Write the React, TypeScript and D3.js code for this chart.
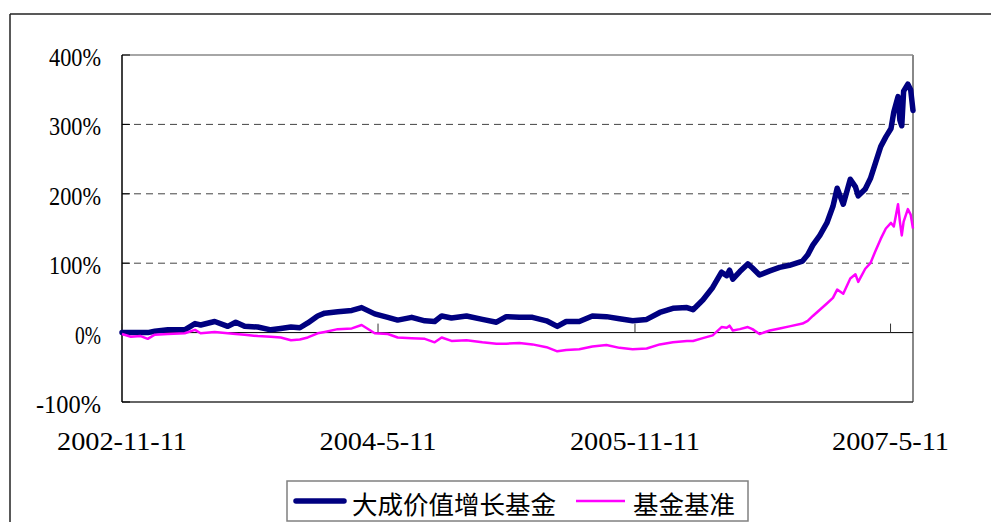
import { line, scaleLinear, scaleTime, timeParse } from "d3";

// 日期（横轴类别）
const dates = [
  "2002-11-11", "2002-11-30", "2002-12-21", "2003-01-05", "2003-01-20", "2003-02-17",
  "2003-03-25", "2003-04-16", "2003-04-28", "2003-05-28", "2003-06-25", "2003-07-12",
  "2003-07-31", "2003-08-28", "2003-09-25", "2003-10-16", "2003-11-07", "2003-11-26",
  "2003-12-13", "2004-01-03", "2004-01-18", "2004-02-15", "2004-03-16", "2004-04-06",
  "2004-05-04", "2004-06-01", "2004-06-22", "2004-07-22", "2004-08-19", "2004-09-09",
  "2004-09-24", "2004-10-15", "2004-11-16", "2004-12-20", "2005-01-19", "2005-02-09",
  "2005-03-09", "2005-04-06", "2005-05-06", "2005-05-29", "2005-06-17", "2005-07-15",
  "2005-08-12", "2005-09-11", "2005-10-09", "2005-11-06", "2005-12-06", "2006-01-03",
  "2006-01-31", "2006-03-02", "2006-03-15", "2006-04-05", "2006-04-26", "2006-05-15",
  "2006-05-26", "2006-06-01", "2006-06-08", "2006-06-23", "2006-07-10", "2006-07-20",
  "2006-08-04", "2006-08-26", "2006-09-16", "2006-10-07", "2006-11-04", "2006-11-15",
  "2006-11-26", "2006-12-11", "2006-12-26", "2007-01-08", "2007-01-17", "2007-01-30",
  "2007-02-14", "2007-02-25", "2007-03-03", "2007-03-18", "2007-03-29", "2007-04-09",
  "2007-04-20", "2007-05-01", "2007-05-12", "2007-05-18", "2007-05-27", "2007-05-31",
  "2007-06-04", "2007-06-08", "2007-06-17", "2007-06-23", "2007-06-28",
];

// 大成价值增长基金 (%)
const fundValues = [
  0, 0, 0, 0, 2, 4,
  4, 13, 11, 16, 9, 15,
  9, 8, 4, 6, 8, 7,
  14, 24, 28, 30, 32, 36,
  27, 22, 18, 22, 17, 16,
  24, 21, 24, 19, 15, 23,
  22, 22, 17, 9, 16, 16,
  24, 23, 20, 17, 19, 29,
  35, 36, 33, 47, 65, 87,
  82, 90, 77, 88, 99, 93,
  83, 89, 94, 97, 103, 112,
  126, 140, 158, 182, 208, 185,
  221, 210, 197, 207, 222, 245,
  268, 282, 294, 318, 340, 306,
  298, 348, 358, 350, 320,
];

// 基金基准 (%)
const benchValues = [
  -2, -6, -5, -9, -3, -2,
  -1, 4, -1, 1, -1, -2,
  -3, -5, -6, -7, -11, -10,
  -7, -1, 1, 5, 6, 11,
  -1, -2, -7, -8, -9, -14,
  -7, -12, -11, -14, -16, -16,
  -15, -17, -21, -27, -25, -24,
  -20, -18, -22, -24, -23, -17,
  -14, -12, -12, -8, -4, 8,
  7, 10, 3, 5, 8, 5,
  -2, 3, 6, 9, 13, 17,
  24, 33, 42, 50, 62, 56,
  78, 84, 73, 92, 100, 118,
  135, 150, 158, 153, 185, 160,
  140, 160, 178, 170, 150,
];

const yTicks = [-100, 0, 100, 200, 300, 400];
const xTickLabels = ["2002-11-11", "2004-5-11", "2005-11-11", "2007-5-11"];
const seriesNames = ["大成价值增长基金", "基金基准"];

const parse = timeParse("%Y-%m-%d");

const LEFT = 122;
const RIGHT = 913;
const TOP = 55;
const BOTTOM = 402;

const labelFont = "'Liberation Serif', 'DejaVu Serif', serif";
const cjkFont = "'Noto Sans CJK SC', sans-serif";

export default function App() {
  const width = 991;
  const height = 522;

  const x = scaleTime()
    .domain([parse(dates[0])!, parse(dates[dates.length - 1])!])
    .range([LEFT, RIGHT]);
  const y = scaleLinear().domain([-100, 400]).range([BOTTOM, TOP]);

  const pts = dates.map((d) => parse(d)!);
  const path = line<number>()
    .x((_, i) => x(pts[i]))
    .y((d) => y(d));

  return (
    <svg
      width={width}
      height={height}
      style={{ position: "absolute", left: 0, top: 0, display: "block", background: "#fff" }}
    >
      {/* 外框 */}
      <line x1={10} y1={14} x2={width} y2={14} stroke="#222" strokeWidth={1.5} />
      <line x1={10} y1={14} x2={10} y2={height} stroke="#222" strokeWidth={1.5} />

      {/* 绘图区 */}
      <rect x={LEFT} y={TOP} width={RIGHT - LEFT} height={BOTTOM - TOP} fill="#fff" />
      {yTicks
        .filter((t) => t > 0 && t < 400)
        .map((t) => (
          <line
            key={t}
            x1={LEFT}
            x2={RIGHT}
            y1={y(t)}
            y2={y(t)}
            stroke="#444"
            strokeDasharray="7 5"
          />
        ))}
      <line x1={LEFT} x2={RIGHT} y1={TOP} y2={TOP} stroke="#888" strokeWidth={1.5} />
      <line x1={RIGHT} x2={RIGHT} y1={TOP} y2={BOTTOM} stroke="#888" strokeWidth={2} />
      <line x1={LEFT} x2={RIGHT} y1={BOTTOM} y2={BOTTOM} stroke="#333" strokeWidth={1.5} />
      <line x1={LEFT} x2={LEFT} y1={TOP} y2={BOTTOM} stroke="#000" strokeWidth={1.5} />
      <line x1={LEFT} x2={RIGHT} y1={y(0)} y2={y(0)} stroke="#000" strokeWidth={1} />

      {/* y 刻度 */}
      {yTicks.map((t) => {
        const label = `${t}%`;
        return (
          <g key={t}>
            <line x1={LEFT} x2={LEFT + 8} y1={y(t)} y2={y(t)} stroke="#000" />
            <text
              x={101}
              y={y(t) + 11}
              textAnchor="end"
              fontFamily={labelFont}
              fontSize={26}
              textLength={label.length * 13}
              lengthAdjust="spacingAndGlyphs"
              fill="#000"
            >
              {label}
            </text>
          </g>
        );
      })}

      {/* x 刻度 */}
      {xTickLabels.map((label) => {
        const px = x(parse(label.replace(/-(\d)-/, "-0$1-"))!);
        return (
          <g key={label}>
            <line x1={px} x2={px} y1={y(0)} y2={y(0) - 9} stroke="#333" />
            <text
              x={px}
              y={450}
              textAnchor="middle"
              fontFamily={labelFont}
              fontSize={26}
              textLength={label.length * 13}
              lengthAdjust="spacingAndGlyphs"
              fill="#000"
            >
              {label}
            </text>
          </g>
        );
      })}

      {/* 数据线 */}
      <path
        d={path(fundValues) ?? ""}
        fill="none"
        stroke="#000080"
        strokeWidth={5.5}
        strokeLinejoin="round"
        strokeLinecap="round"
      />
      <path
        d={path(benchValues) ?? ""}
        fill="none"
        stroke="#FF00FF"
        strokeWidth={2.5}
        strokeLinejoin="round"
      />

      {/* 图例 */}
      <rect x={287} y={481} width={461} height={40} fill="#fff" stroke="#808080" strokeWidth={1.5} />
      <line x1={296} x2={344} y1={501} y2={501} stroke="#000080" strokeWidth={5.5} strokeLinecap="round" />
      <text x={352} y={502} dominantBaseline="central" fontFamily={cjkFont} fontSize={25.5} fill="#000">
        {seriesNames[0]}
      </text>
      <line x1={576} x2={625} y1={501} y2={501} stroke="#FF00FF" strokeWidth={2.5} />
      <text x={633} y={502} dominantBaseline="central" fontFamily={cjkFont} fontSize={25.5} fill="#000">
        {seriesNames[1]}
      </text>
    </svg>
  );
}
